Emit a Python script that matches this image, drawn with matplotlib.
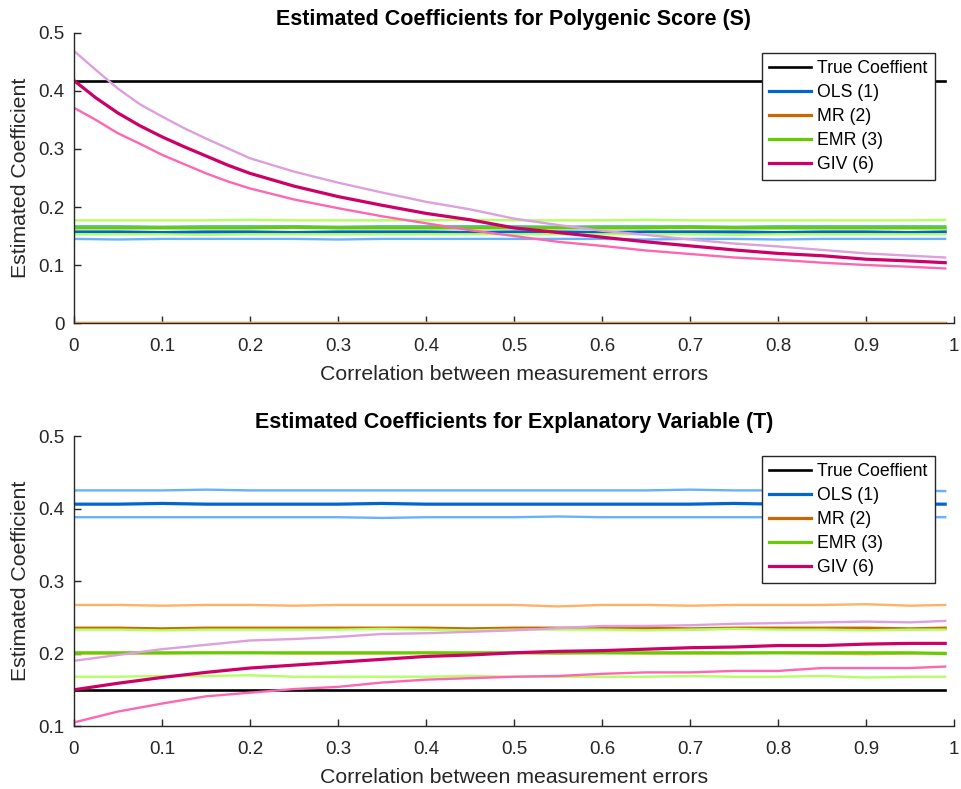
import matplotlib.pyplot as plt

# correlation between measurement errors (read every 0.05)
x = [0, 0.05, 0.1, 0.15, 0.2, 0.25, 0.3, 0.35, 0.4, 0.45, 0.5,
     0.55, 0.6, 0.65, 0.7, 0.75, 0.8, 0.85, 0.9, 0.95, 0.99]
# GIV for S bends fast near 0, so it was read a bit finer there
x_giv_s = [0, 0.025, 0.05, 0.075, 0.1, 0.125, 0.15, 0.175, 0.2, 0.25, 0.3, 0.35, 0.4, 0.45, 0.5,
           0.55, 0.6, 0.65, 0.7, 0.75, 0.8, 0.85, 0.9, 0.95, 0.99]

# --- panel 1: polygenic score (S)
true_s = 0.418
ols_s = [0.157, 0.157, 0.156, 0.157, 0.157, 0.156, 0.157, 0.157, 0.157, 0.156, 0.157,
         0.157, 0.156, 0.157, 0.157, 0.157, 0.156, 0.157, 0.157, 0.156, 0.157]
ols_s_hi = [0.167, 0.167, 0.166, 0.167, 0.167, 0.167, 0.166, 0.167, 0.167, 0.167, 0.167,
            0.166, 0.167, 0.167, 0.167, 0.166, 0.167, 0.167, 0.167, 0.167, 0.167]
ols_s_lo = [0.145, 0.144, 0.145, 0.145, 0.145, 0.145, 0.144, 0.145, 0.145, 0.145, 0.145,
            0.145, 0.145, 0.144, 0.145, 0.145, 0.144, 0.145, 0.145, 0.145, 0.145]
mr_s = [0.0] * 21
mr_s_hi = [0.0] * 21
mr_s_lo = [0.0] * 21
emr_s = [0.164, 0.164, 0.164, 0.164, 0.164, 0.165, 0.164, 0.164, 0.164, 0.164, 0.164,
         0.164, 0.164, 0.164, 0.165, 0.164, 0.164, 0.164, 0.164, 0.164, 0.164]
emr_s_hi = [0.177, 0.177, 0.177, 0.177, 0.178, 0.177, 0.177, 0.177, 0.177, 0.178, 0.177,
            0.177, 0.177, 0.178, 0.177, 0.177, 0.177, 0.177, 0.177, 0.177, 0.178]
emr_s_lo = [0.153, 0.153, 0.153, 0.152, 0.153, 0.153, 0.153, 0.153, 0.153, 0.153, 0.153,
            0.153, 0.153, 0.153, 0.153, 0.152, 0.153, 0.153, 0.153, 0.153, 0.153]
giv_s = [0.418, 0.388, 0.362, 0.340, 0.321, 0.304, 0.288, 0.272, 0.258, 0.236, 0.218, 0.203,
         0.189, 0.178, 0.164, 0.156, 0.148, 0.140, 0.133, 0.126, 0.120, 0.116, 0.110, 0.107, 0.104]
giv_s_hi = [0.469, 0.436, 0.404, 0.377, 0.356, 0.336, 0.318, 0.301, 0.284, 0.261, 0.242, 0.225,
            0.209, 0.196, 0.180, 0.169, 0.159, 0.152, 0.144, 0.137, 0.132, 0.126, 0.120, 0.116, 0.113]
giv_s_lo = [0.371, 0.350, 0.327, 0.309, 0.290, 0.274, 0.258, 0.244, 0.232, 0.213, 0.198, 0.184,
            0.172, 0.160, 0.150, 0.140, 0.133, 0.125, 0.119, 0.113, 0.109, 0.104, 0.100, 0.097, 0.094]

# --- panel 2: explanatory variable (T)
true_t = 0.150
ols_t = [0.406, 0.406, 0.407, 0.406, 0.406, 0.406, 0.406, 0.407, 0.406, 0.406, 0.406,
         0.406, 0.406, 0.406, 0.406, 0.407, 0.406, 0.406, 0.406, 0.406, 0.406]
ols_t_hi = [0.425, 0.425, 0.425, 0.426, 0.425, 0.425, 0.425, 0.425, 0.425, 0.425, 0.425,
            0.425, 0.425, 0.425, 0.426, 0.425, 0.425, 0.425, 0.425, 0.425, 0.424]
ols_t_lo = [0.388, 0.388, 0.388, 0.388, 0.388, 0.388, 0.388, 0.387, 0.388, 0.388, 0.388,
            0.389, 0.388, 0.388, 0.388, 0.388, 0.388, 0.388, 0.388, 0.388, 0.388]
mr_t = [0.235, 0.235, 0.234, 0.235, 0.235, 0.235, 0.235, 0.235, 0.235, 0.234, 0.235,
        0.235, 0.235, 0.235, 0.234, 0.235, 0.235, 0.235, 0.235, 0.234, 0.235]
mr_t_hi = [0.267, 0.267, 0.266, 0.267, 0.267, 0.266, 0.267, 0.267, 0.267, 0.267, 0.267,
           0.265, 0.267, 0.267, 0.266, 0.267, 0.267, 0.267, 0.268, 0.266, 0.267]
mr_t_lo = [0.200, 0.200, 0.200, 0.201, 0.201, 0.200, 0.200, 0.200, 0.201, 0.200, 0.201,
           0.200, 0.201, 0.200, 0.200, 0.200, 0.201, 0.200, 0.199, 0.200, 0.201]
emr_t = [0.201, 0.201, 0.201, 0.201, 0.201, 0.201, 0.201, 0.201, 0.201, 0.201, 0.201,
         0.201, 0.201, 0.201, 0.201, 0.201, 0.201, 0.201, 0.201, 0.201, 0.200]
emr_t_hi = [0.233, 0.233, 0.232, 0.233, 0.233, 0.233, 0.233, 0.234, 0.233, 0.232, 0.233,
            0.233, 0.233, 0.232, 0.233, 0.234, 0.233, 0.233, 0.232, 0.233, 0.233]
emr_t_lo = [0.168, 0.168, 0.169, 0.169, 0.170, 0.168, 0.168, 0.168, 0.168, 0.169, 0.168,
            0.168, 0.168, 0.168, 0.169, 0.168, 0.168, 0.169, 0.167, 0.168, 0.168]
giv_t = [0.150, 0.159, 0.167, 0.174, 0.180, 0.184, 0.188, 0.192, 0.196, 0.198, 0.201,
         0.203, 0.204, 0.206, 0.208, 0.209, 0.211, 0.211, 0.213, 0.214, 0.214]
giv_t_hi = [0.190, 0.198, 0.206, 0.212, 0.218, 0.220, 0.223, 0.227, 0.228, 0.230, 0.232,
            0.235, 0.238, 0.238, 0.239, 0.241, 0.242, 0.243, 0.244, 0.243, 0.245]
giv_t_lo = [0.105, 0.120, 0.131, 0.141, 0.146, 0.151, 0.154, 0.160, 0.164, 0.166, 0.168,
            0.169, 0.172, 0.174, 0.174, 0.176, 0.176, 0.180, 0.180, 0.180, 0.182]

labels = ['True Coeffient', 'OLS (1)', 'MR (2)', 'EMR (3)', 'GIV (6)']
dark = ['#0066CC', '#CC6600', '#66CC00', '#CC0066']
light_hi = ['#66B2FF', '#FFB266', '#B2FF66', '#DDA0DD']
light_lo = ['#66B2FF', '#FFB266', '#B2FF66', '#FF66B2']
axcol = '#262626'

plt.rcParams['font.family'] = ['Liberation Sans', 'DejaVu Sans']

fig = plt.figure(figsize=(9.61, 7.89), dpi=100)
ax1 = fig.add_axes([0.077, 0.5906, 0.9157, 0.3676])
ax2 = fig.add_axes([0.077, 0.0798, 0.9157, 0.3676])


def draw(ax, true, series, xs, title, ylim, yticks):
    ax.plot(x, [true] * len(x), color='black', lw=1.9, label=labels[0])
    for i, (m, hi, lo) in enumerate(series):
        xx = xs if i == 3 else x
        ax.plot(xx, m, color=dark[i], lw=2.3, label=labels[i + 1])
        ax.plot(xx, hi, color=light_hi[i], lw=1.7)
        ax.plot(xx, lo, color=light_lo[i], lw=1.7)
    ax.set_xlim(0, 1)
    ax.set_ylim(*ylim)
    ax.set_xticks([0, 0.1, 0.2, 0.3, 0.4, 0.5, 0.6, 0.7, 0.8, 0.9, 1])
    ax.set_xticklabels(['0', '0.1', '0.2', '0.3', '0.4', '0.5', '0.6', '0.7', '0.8', '0.9', '1'])
    ax.set_yticks(yticks)
    ax.set_yticklabels([('%g' % v) for v in yticks])
    for s in ['top', 'right']:
        ax.spines[s].set_visible(False)
    for s in ['left', 'bottom']:
        ax.spines[s].set_color(axcol)
        ax.spines[s].set_linewidth(1.0)
    ax.tick_params(direction='in', length=5, width=1.0, colors=axcol, labelsize=13.5)
    ax.tick_params(axis='x', pad=11)
    ax.tick_params(axis='y', pad=7)
    ax.set_xlabel('Correlation between measurement errors', fontsize=15.3, color=axcol, labelpad=7)
    ax.set_ylabel('Estimated Coefficient', fontsize=15.3, color=axcol, labelpad=6)
    ax.set_title(title, fontsize=15.5, fontweight='bold', pad=6)
    h, l = ax.get_legend_handles_labels()
    leg = ax.legend(h, l, loc='upper right', bbox_to_anchor=(0.978, 0.931),
                    borderaxespad=0, fontsize=12.7, frameon=True, fancybox=False,
                    framealpha=1, edgecolor=axcol, handlelength=2.4,
                    handletextpad=0.35, labelspacing=0.4, borderpad=0.4)
    leg.get_frame().set_linewidth(1.0)


draw(ax1, true_s,
     [(ols_s, ols_s_hi, ols_s_lo), (mr_s, mr_s_hi, mr_s_lo),
      (emr_s, emr_s_hi, emr_s_lo), (giv_s, giv_s_hi, giv_s_lo)], x_giv_s,
     'Estimated Coefficients for Polygenic Score (S)', (0, 0.5),
     [0, 0.1, 0.2, 0.3, 0.4, 0.5])
draw(ax2, true_t,
     [(ols_t, ols_t_hi, ols_t_lo), (mr_t, mr_t_hi, mr_t_lo),
      (emr_t, emr_t_hi, emr_t_lo), (giv_t, giv_t_hi, giv_t_lo)], x,
     'Estimated Coefficients for Explanatory Variable (T)', (0.1, 0.5),
     [0.1, 0.2, 0.3, 0.4, 0.5])

fig.savefig('out.png', dpi=100)
